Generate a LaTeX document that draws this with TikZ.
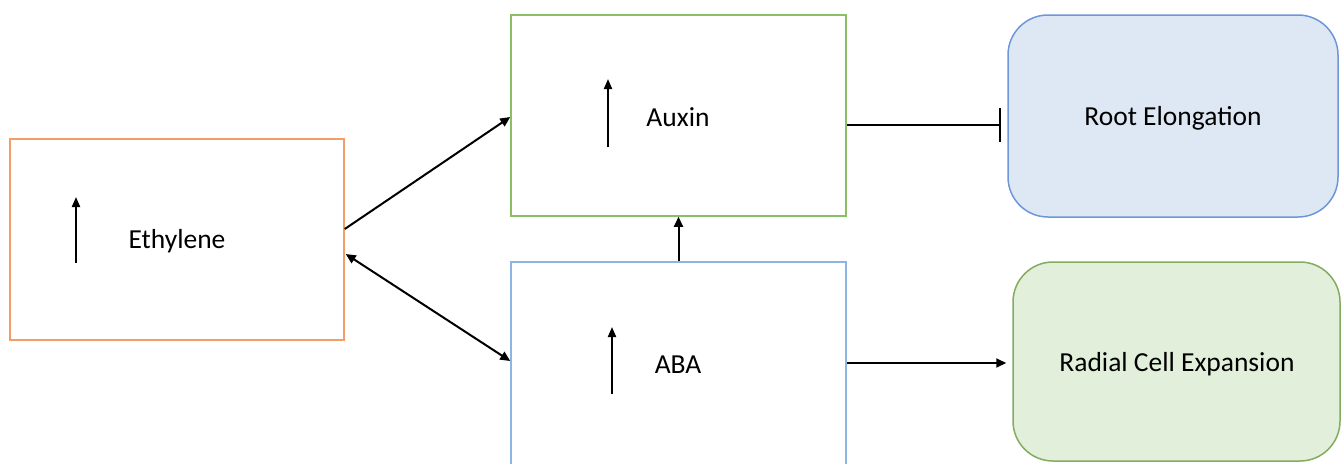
\documentclass[tikz,border=0pt]{standalone}
\usepackage{fontspec}
\setmainfont{Carlito}
\usetikzlibrary{arrows.meta,calc}
\definecolor{ethline}{RGB}{243,158,100}
\definecolor{auxline}{RGB}{140,190,100}
\definecolor{abaline}{RGB}{141,180,226}
\definecolor{rootfill}{RGB}{222,232,245}
\definecolor{rootline}{RGB}{110,150,216}
\definecolor{radfill}{RGB}{226,239,218}
\definecolor{radline}{RGB}{130,172,96}
\tikzset{
  hormone/.style={draw, line width=1.5pt, rectangle, minimum width=335pt, minimum height=201pt, inner sep=0pt},
  outcome/.style={draw, line width=1.5pt, rectangle, rounded corners=40pt, inner sep=0pt},
  link/.style={line width=2pt, black, -{Triangle[length=10pt,width=9pt]}},
  uparrow/.style={line width=2pt, black, -{Triangle[length=10pt,width=8pt]}},
  label/.style={font=\fontsize{27.5}{32}\selectfont}
}
\begin{document}
\begin{tikzpicture}[x=1pt,y=-1pt]
\useasboundingbox (0,0) rectangle (1343,463);
\clip (0,0) rectangle (1343,463);

% hormone boxes
\node[hormone, draw=ethline, minimum width=334pt] (eth) at (177,239.5) {};
\node[hormone, draw=auxline] (aux) at (678.5,115.5) {};
\node[hormone, draw=abaline, minimum height=206pt] (aba) at (678.5,365) {};

\node[label] (ethtxt) at (177,241.5) {Ethylene};
\node[label] (auxtxt) at (678,117.5) {Auxin};
\node[label] (abatxt) at (678,364.5) {ABA};

% outcome boxes
\node[outcome, draw=rootline, fill=rootfill, minimum width=330pt, minimum height=202pt] (root) at (1173,116) {};
\node[label] (roottxt) at (1173,118) {Root Elongation};
\node[outcome, draw=radline, fill=radfill, minimum width=327pt, minimum height=199pt] (rad) at (1176.5,361.5) {};
\node[label] (radtxt) at (1177,364.5) {Radial Cell Expansion};

% increase arrows inside the hormone boxes
\draw[uparrow] ($(eth.center)+(-101,23.5)$) coordinate (e1) -- ($(eth.center)+(-101,-42.5)$) coordinate (e2);
\draw[uparrow] ($(aux.center)+(-70.5,31.5)$) coordinate (a1) -- ($(aux.center)+(-70.5,-36.5)$) coordinate (a2);
\draw[uparrow] ($(aba.center)+(-66.5,29)$) coordinate (b1) -- ($(aba.center)+(-66.5,-38)$) coordinate (b2);

% interactions
\draw[link] ($(eth.east)+(0,-10.5)$) -- ($(aux.west)+(0,1.5)$);
\draw[link, {Triangle[length=10pt,width=9pt]}-{Triangle[length=10pt,width=9pt]}] ($(eth.east)+(1,14.5)$) -- ($(aba.west)+(0,-4)$);
\draw[link] (aba.north) -- (aux.south);
\draw[line width=2pt, black, -{Bar[width=34pt,line width=2.5pt]}] ($(aux.east)+(0,9.5)$) -- ($(root.west)+(-6,9)$);
\draw[link] ($(aba.east)+(0,-2)$) -- ($(rad.west)+(-6,1.5)$);
\end{tikzpicture}
\end{document}
